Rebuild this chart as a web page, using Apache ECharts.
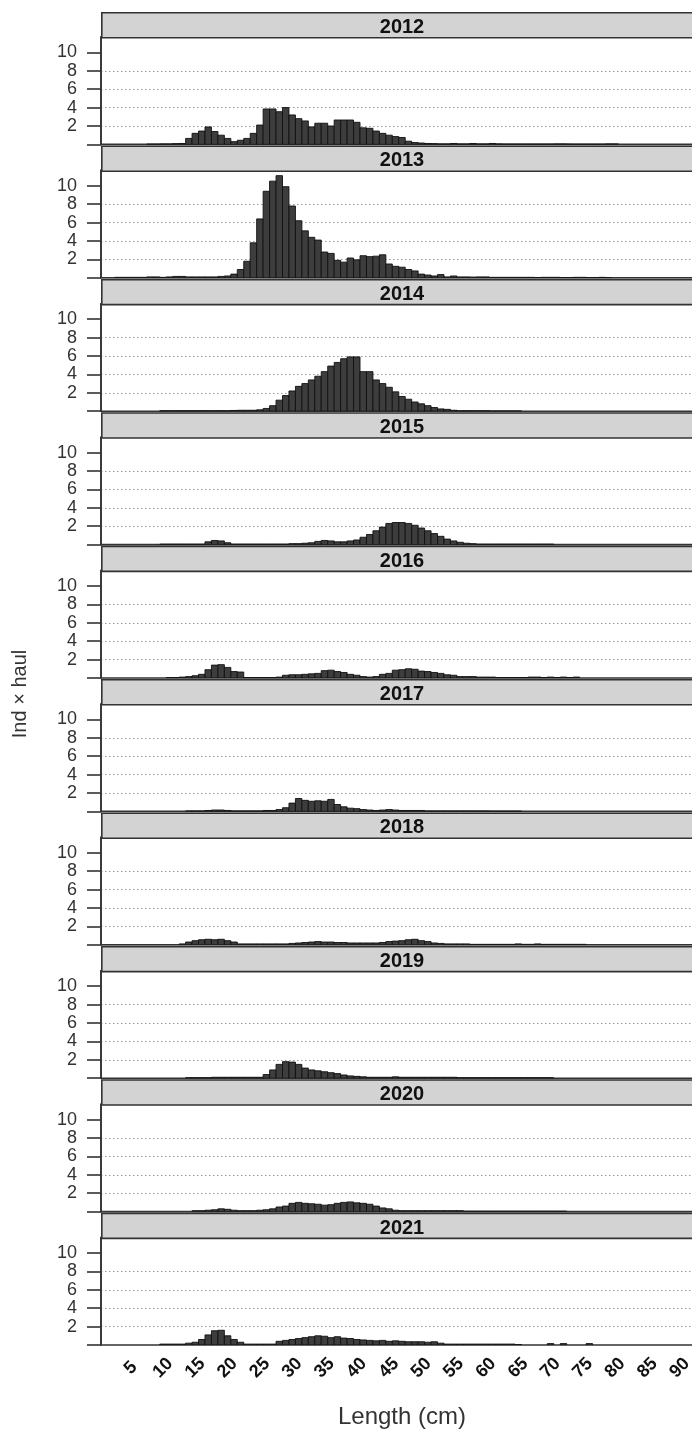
<!DOCTYPE html>
<html>
<head>
<meta charset="utf-8">
<script src="https://cdn.jsdelivr.net/npm/echarts@6/dist/echarts.min.js"></script>
<style>
html,body{margin:0;padding:0;background:#fff;}
#chart{width:692px;height:1439px;}
</style>
</head>
<body>
<div id="chart"></div>
<script>
// ---------- data ----------
const years = ['2012','2013','2014','2015','2016','2017','2018','2019','2020','2021'];
const lengthStart = 1; // first length class (cm) of every series below
const xTickLabels = [5,10,15,20,25,30,35,40,45,50,55,60,65,70,75,80,85,90];
const yTickLabels = [2,4,6,8,10];
const yTicks = [0,2,4,6,8,10];

const v2012 = [0,0,0,0,0,0,0,0.03,0.03,0.05, 0.05,0.08,0.1,0.65,1.2, 1.45,1.9,1.4,1.0,0.65, 0.3,0.45,0.65,1.2,2.1, 3.85,3.85,3.55,4.0,3.2, 2.8,2.55,1.9,2.3,2.3, 2.0,2.65,2.65,2.65,2.4, 1.8,1.75,1.45,1.2,1.0, 0.85,0.75,0.35,0.2,0.15, 0.1,0.08,0.05,0.05,0.1, 0.05,0.05,0.1,0.05,0.05, 0.1,0.05,0.03,0.03,0.03, 0.03,0.03,0.03,0.03,0.03, 0.05,0.05,0.03,0.02,0.02, 0.02,0.02,0.02,0.05,0.05];
const v2013 = [0,0,0.05,0.05,0.05, 0.05,0.05,0.1,0.1,0.05, 0.1,0.15,0.15,0.1,0.1, 0.1,0.1,0.1,0.15,0.2, 0.4,0.9,1.8,3.8,6.4, 9.4,10.5,11.1,9.9,7.8, 6.2,5.1,4.4,4.1,2.8, 2.65,1.9,1.7,2.15,1.95, 2.4,2.3,2.35,2.5,1.5, 1.25,1.15,0.9,0.75,0.4, 0.3,0.2,0.35,0.1,0.2, 0.1,0.1,0.08,0.1,0.1, 0.05,0.05,0.05,0.05,0.05, 0.05,0.05,0.03,0.05,0.05, 0.05,0.03,0.03,0.05,0.05, 0.03,0.03,0.05,0.03,0];
const v2014 = [0,0,0,0,0, 0,0,0,0,0.05, 0.05,0.05,0.05,0.05,0.05, 0.05,0.05,0.05,0.05,0.05, 0.08,0.1,0.1,0.1,0.15, 0.3,0.6,1.2,1.7,2.2, 2.7,3.0,3.4,3.8,4.3, 4.9,5.3,5.7,5.9,5.9, 4.3,4.3,3.4,3.0,2.6, 2.1,1.6,1.3,1.0,0.8, 0.6,0.4,0.25,0.2,0.1, 0.05,0.05,0.05,0.05,0.05, 0.03,0.03,0.03,0.03,0.03, 0,0,0,0,0, 0,0,0,0,0, 0,0,0,0,0];
const v2015 = [0,0,0,0,0, 0,0,0,0,0.05, 0.05,0.05,0.05,0.05,0.05, 0.05,0.3,0.45,0.4,0.2, 0.05,0.05,0.05,0.05,0.05, 0.05,0.05,0.05,0.05,0.1, 0.1,0.15,0.2,0.35,0.45, 0.4,0.3,0.3,0.4,0.5, 0.8,1.1,1.5,1.9,2.3, 2.4,2.4,2.3,2.1,1.8, 1.5,1.2,0.9,0.6,0.4, 0.25,0.15,0.1,0.05,0.05, 0.05,0.05,0.05,0.05,0.05, 0.05,0.05,0.05,0.05,0.05, 0,0,0,0,0, 0,0,0,0,0];
const v2016 = [0,0,0,0,0, 0,0,0,0,0, 0.05,0.05,0.1,0.15,0.25, 0.4,0.9,1.4,1.45,1.15, 0.7,0.65,0.05,0.05,0.05, 0.05,0.05,0.1,0.3,0.35, 0.35,0.4,0.45,0.5,0.8, 0.85,0.7,0.6,0.4,0.3, 0.15,0.1,0.15,0.4,0.5, 0.85,0.9,1.0,0.95,0.75, 0.7,0.6,0.5,0.35,0.3, 0.15,0.15,0.15,0.1,0.1, 0.1,0.05,0.05,0.05,0.05, 0.05,0.1,0.1,0.05,0.1, 0.05,0.1,0.05,0.1,0, 0,0,0,0,0];
const v2017 = [0,0,0,0,0, 0,0,0,0,0, 0,0,0,0.05,0.05, 0.05,0.1,0.15,0.15,0.1, 0.05,0.05,0.05,0.05,0.05, 0.1,0.1,0.2,0.4,0.9, 1.4,1.2,1.1,1.15,1.1, 1.3,0.75,0.5,0.35,0.3, 0.2,0.15,0.1,0.15,0.2, 0.15,0.1,0.1,0.1,0.1, 0.05,0.05,0.05,0.05,0.05, 0.05,0.05,0.05,0.05,0.05, 0.03,0.03,0.03,0.03,0.03, 0,0,0,0,0, 0,0,0,0,0, 0,0,0,0,0];
const v2018 = [0,0,0,0,0, 0,0,0,0,0, 0,0,0.1,0.3,0.45, 0.55,0.6,0.55,0.6,0.45, 0.3,0.1,0.1,0.1,0.1, 0.1,0.1,0.1,0.1,0.15, 0.2,0.25,0.3,0.35,0.3, 0.3,0.25,0.25,0.2,0.2, 0.2,0.2,0.2,0.25,0.35, 0.4,0.45,0.55,0.6,0.45, 0.35,0.2,0.15,0.1,0.1, 0.1,0.1,0.05,0.05,0.05, 0.05,0.05,0.05,0.05,0.1, 0.05,0.05,0.1,0.05,0.05, 0.05,0.05,0.05,0.05,0.05, 0,0,0,0,0];
const v2019 = [0,0,0,0,0, 0,0,0,0,0, 0,0,0,0.05,0.05, 0.05,0.05,0.1,0.1,0.1, 0.1,0.1,0.1,0.1,0.1, 0.4,0.9,1.5,1.8,1.75, 1.5,1.1,0.9,0.8,0.7, 0.6,0.5,0.35,0.25,0.2, 0.15,0.1,0.1,0.1,0.1, 0.15,0.1,0.1,0.1,0.1, 0.1,0.1,0.1,0.1,0.1, 0.05,0.05,0.05,0.05,0.05, 0.05,0.05,0.05,0.05,0.05, 0.05,0.05,0.05,0.05,0.05, 0,0,0,0,0, 0,0,0,0,0];
const v2020 = [0,0,0,0,0, 0,0,0,0,0, 0,0,0,0,0.1, 0.1,0.15,0.2,0.3,0.25, 0.15,0.1,0.1,0.1,0.15, 0.2,0.3,0.5,0.6,0.9, 1.0,0.9,0.85,0.8,0.7, 0.75,0.9,1.0,1.05,0.95, 0.9,0.8,0.6,0.4,0.3, 0.15,0.1,0.1,0.1,0.1, 0.1,0.1,0.1,0.1,0.1, 0.1,0.05,0.05,0.05,0.05, 0.05,0.05,0.05,0.05,0.05, 0.05,0.05,0.05,0.05,0.05, 0.05,0.05,0,0,0, 0,0,0,0,0];
const v2021 = [0,0,0,0,0, 0,0,0,0,0.1, 0.1,0.1,0.1,0.2,0.3, 0.6,1.1,1.55,1.6,1.0, 0.6,0.3,0.1,0.1,0.1, 0.1,0.1,0.4,0.5,0.6, 0.7,0.8,0.9,1.0,0.95, 0.8,0.9,0.75,0.7,0.6, 0.55,0.5,0.45,0.5,0.4, 0.45,0.4,0.35,0.35,0.35, 0.3,0.35,0.2,0.1,0.1, 0.1,0.1,0.1,0.1,0.1, 0.1,0.1,0.1,0.1,0.05, 0,0,0,0,0.15, 0,0.15,0,0,0, 0.15,0,0,0,0];
const series = [v2012,v2013,v2014,v2015,v2016,v2017,v2018,v2019,v2020,v2021];

// ---------- layout ----------
const L = 101, W = 602;          // panel left / width (panel runs past the right edge)
const TOP0 = 12, PITCH = 133.4;  // first strip top, panel pitch
const STRIP = 25, PLOT = 107.4;  // strip height, plot height
const XMIN = 0.4, XMAX = 93.6, YMAX = 11.67;
const FONT = 'Liberation Sans, Arial, Helvetica, sans-serif';

const chart = echarts.init(document.getElementById('chart'), null, {renderer:'canvas'});
const grids = [], xAxes = [], yAxes = [], sers = [], graphics = [];

function renderBar(params, api) {
  const x = api.value(0), y = api.value(1);
  const p0 = api.coord([x - 0.5, y]);
  const p1 = api.coord([x + 0.5, 0]);
  return {
    type: 'rect',
    shape: {x: p0[0], y: p0[1], width: p1[0] - p0[0], height: p1[1] - p0[1]},
    style: {fill: '#3d3d3d', stroke: '#111', lineWidth: 0.9}
  };
}

years.forEach((yr, k) => {
  const stripTop = TOP0 + k * PITCH;
  const last = k === years.length - 1;
  grids.push({left: L, top: stripTop + STRIP, width: W, height: PLOT,
    outerBoundsMode: 'none', containLabel: false,
    show: true, borderColor: '#333', borderWidth: 1.6, backgroundColor: '#fff'});
  xAxes.push({type: 'value', gridIndex: k, min: XMIN, max: XMAX,
    axisLine: {show: false}, axisTick: {show: false}, splitLine: {show: false},
    axisLabel: last ? {show: true, customValues: xTickLabels, rotate: 45, align: 'center',
      verticalAlign: 'middle', margin: 23, color: '#111', fontSize: 18, fontWeight: 'bold',
      fontFamily: FONT} : {show: false}});
  yAxes.push({type: 'value', gridIndex: k, min: 0, max: YMAX, interval: 2,
    axisLine: {show: true, lineStyle: {color: '#333', width: 1.6}},
    axisTick: {show: true, customValues: yTicks, length: 14, lineStyle: {color: '#333', width: 1.6}},
    axisLabel: {show: true, customValues: yTickLabels, margin: 24, color: '#333', fontSize: 18,
      fontFamily: FONT},
    splitLine: {show: true, showMinLine: false, showMaxLine: false,
      lineStyle: {color: '#999', type: [1.5, 2.5], width: 1}}});
  const d = [];
  series[k].forEach((v, i) => { if (v > 0) d.push([lengthStart + i, v]); });
  sers.push({type: 'custom', xAxisIndex: k, yAxisIndex: k, data: d, renderItem: renderBar,
    clip: true, silent: true, animation: false});
  graphics.push({type: 'rect', left: L, top: stripTop, z: 10,
    shape: {x: 0, y: 0, width: W, height: STRIP},
    style: {fill: '#d3d3d3', stroke: '#333', lineWidth: 1.6}});
  graphics.push({type: 'text', x: L + W / 2, y: stripTop + STRIP / 2 + 3, z: 11,
    style: {text: yr, fill: '#111', font: 'bold 20px ' + FONT, textAlign: 'center', textVerticalAlign: 'middle'}});
});

graphics.push({type: 'text', x: 402, y: 1417, z: 11,
  style: {text: 'Length (cm)', fill: '#333', font: '24px ' + FONT, textAlign: 'center', textVerticalAlign: 'middle'}});
graphics.push({type: 'text', x: 20, y: 694, z: 11, rotation: Math.PI / 2,
  style: {text: 'Ind × haul', fill: '#333', font: '20px ' + FONT, textAlign: 'center', textVerticalAlign: 'middle'}});

chart.setOption({
  animation: false,
  grid: grids, xAxis: xAxes, yAxis: yAxes, series: sers,
  graphic: {elements: graphics}
});
</script>
</body>
</html>
